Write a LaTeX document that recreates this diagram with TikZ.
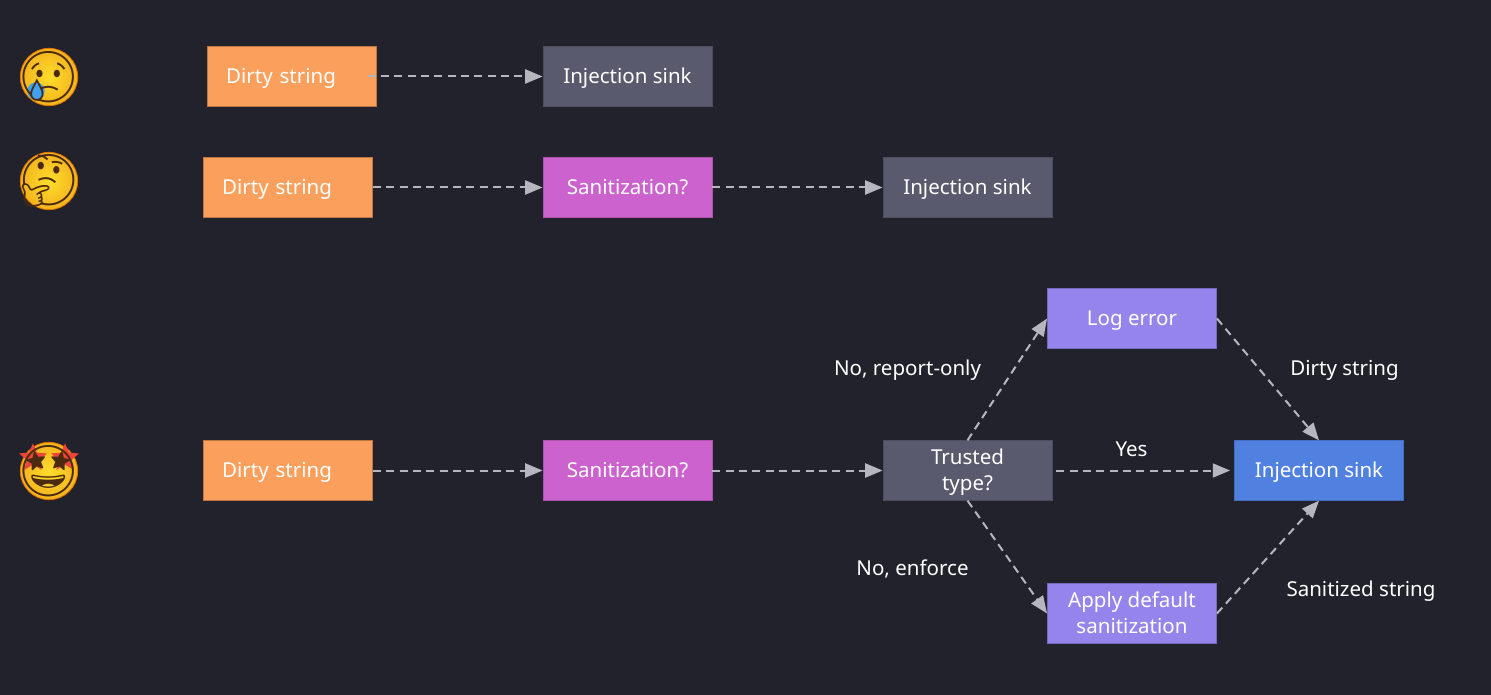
\documentclass[tikz,border=0pt]{standalone}
\usepackage{fontspec}
\usepackage{tikz}
\usetikzlibrary{arrows.meta,shapes.geometric}
\setmainfont{Noto Sans}
\newfontfamily\emojifont{Noto Emoji}
\definecolor{bgdark}{HTML}{21222C}
\definecolor{dirtyfill}{HTML}{FB9F5C}
\definecolor{sanitfill}{HTML}{CC62CE}
\definecolor{greyfill}{HTML}{5A5A6E}
\definecolor{logfill}{HTML}{9584EC}
\definecolor{bluefill}{HTML}{5080E0}
\definecolor{flowline}{HTML}{B6B6BE}
\definecolor{faceinner}{HTML}{FEDD2B}
\definecolor{faceouter}{HTML}{F3B31E}
\definecolor{facebrown}{HTML}{4A2A10}
\definecolor{tearblue}{HTML}{3FA2EE}
\definecolor{starred}{HTML}{EF4438}
\begin{document}
\begin{tikzpicture}[x=0.75pt,y=-0.75pt,>={Triangle[length=13pt,width=10.5pt,fill=flowline]},
  node distance=255pt,font=\fontsize{15.4}{19.5}\selectfont,text=white,
  box node/.style={rectangle,draw,line width=0.6pt,minimum width=126.8pt,minimum height=44.6pt,inner sep=0pt,align=center,text height=11pt,text depth=0pt},
  double node/.style={text height=30.5pt,text depth=0pt},
  dirty node/.style={box node,fill=dirtyfill,draw=dirtyfill!75!black,text width=98.8pt,align=left},
  sanit node/.style={box node,fill=sanitfill,draw=sanitfill!85!black},
  grey node/.style={box node,fill=greyfill,draw=greyfill!85!black},
  log node/.style={box node,fill=logfill,draw=logfill!80!black},
  blue node/.style={box node,fill=bluefill,draw=bluefill!85!black},
  face node/.style={circle,inner color=faceinner,outer color=faceouter,draw=orange!90!black,line width=0.6pt,minimum size=43pt,inner sep=0pt},
  glyph node/.style={inner sep=0pt,text=facebrown,font=\emojifont\fontsize{38}{38}\selectfont},
  star node/.style={star,star points=5,star point ratio=2.2,fill=starred,minimum size=22pt,inner sep=0pt},
  label node/.style={inner sep=0pt,text height=11pt,text depth=0pt},
  flow/.style={->,draw=flowline,line width=1.5pt,dash pattern=on 6pt off 4pt}]
  \fill[bgdark] (0,0) rectangle (1491,695);

  \node[face node] (face1) at (49,77) {};
  \node[circle,fill=tearblue,minimum size=13pt,inner sep=0pt] (tear) at (36,91) {};
  \node[glyph node] (glyph1) at (face1) {😢};
  \node[face node] (face2) at (49,181) {};
  \node[glyph node] (glyph2) at (face2) {🤔};
  \node[face node] (face3) at (49,471) {};
  \node[star node] (star1) at (33,458) {};
  \node[star node] (star2) at (65,458) {};
  \node[glyph node] (glyph3) at (face3) {🤩};

  \node[dirty node] (dirty1) at (292,76.5) {Dirty string};
  \node[dirty node] (dirty2) at (288,187.5) {Dirty string};
  \node[dirty node] (dirty3) at (288,470.5) {Dirty string};

  \node[sanit node] (sanit2) at (627.5,187.5) {Sanitization?};
  \node[grey node] (sink1) at (627.5,76.5) {Injection sink};
  \node[grey node] (sink2) [right of=sanit2] {Injection sink};

  \node[sanit node] (sanit3) at (627.5,470.5) {Sanitization?};
  \node[grey node,double node] (trusted) [right of=sanit3] {Trusted\\type?};
  \node[blue node] (sink3) at (1319,470.5) {Injection sink};
  \node[log node] (log) at (1132,318.5) {Log error};
  \node[log node,double node] (apply) at (1132,613.5) {Apply default\\sanitization};

  \node[label node] (lab1) at (907.5,368) {No, report-only};
  \node[label node] (lab2) at (1344.5,368) {Dirty string};
  \node[label node] (lab3) at (1131.5,449.5) {Yes};
  \node[label node] (lab4) at (912.5,568) {No, enforce};
  \node[label node] (lab5) at (1361,589) {Sanitized string};

  \path[every edge/.style={flow}]
    (dirty1.east) edge[shorten <=-7pt] (sink1.west)
    (dirty2) edge (sanit2)
    (sanit2) edge (sink2)
    (dirty3) edge (sanit3)
    (sanit3) edge (trusted)
    (trusted.east) edge[shorten <=3pt,shorten >=3pt] (sink3.west)
    (trusted.north) edge (log.west)
    (trusted.south) edge (apply.west)
    (log.east) edge (sink3.north)
    (apply.east) edge (sink3.south);
\end{tikzpicture}
\end{document}
